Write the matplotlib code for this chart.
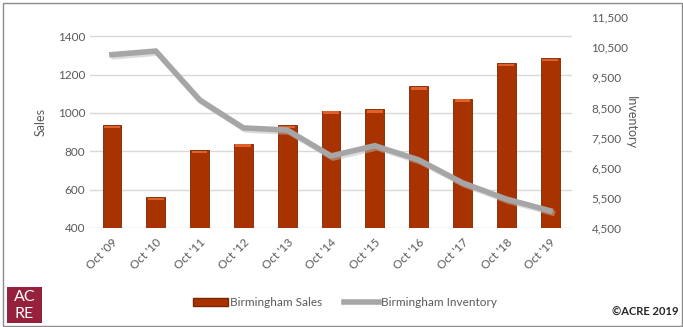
import matplotlib
matplotlib.use('Agg')
from matplotlib import pyplot as plt
from matplotlib.patches import Rectangle, Patch
from matplotlib.lines import Line2D
import matplotlib.patheffects as pe

years = ["Oct '09", "Oct '10", "Oct '11", "Oct '12", "Oct '13", "Oct '14",
         "Oct '15", "Oct '16", "Oct '17", "Oct '18", "Oct '19"]
sales = [935, 560, 805, 838, 935, 1012, 1018, 1138, 1075, 1258, 1285]
inventory = [10250, 10370, 8750, 7820, 7750, 6890, 7230, 6760, 6000, 5460, 5070]

sales_ticks = [400, 600, 800, 1000, 1200, 1400]
inv_ticks = [4500, 5500, 6500, 7500, 8500, 9500, 10500, 11500]

plt.rcParams['font.family'] = ['Lato', 'DejaVu Sans']
txt = '#595959'

fig = plt.figure(figsize=(6.83, 3.27), dpi=100)
ax = fig.add_axes([0.1318, 0.3028, 0.7057, 0.6452])

x = range(len(years))
ax.bar(x, sales, width=0.43, color='#A93300', edgecolor='#7A2400', linewidth=0.6, zorder=2)
# lighter bevel along each bar top
for i, v in enumerate(sales):
    ax.bar(i, 14, bottom=v - 16, width=0.36, color='#E0622A', linewidth=0, zorder=3)

ax.set_ylim(400, 1500)
ax.set_xlim(-0.5, len(years) - 0.5)
ax.set_yticks(sales_ticks)
ax.yaxis.grid(True, color='#D9D9D9', linewidth=1)
ax.set_axisbelow(True)
for s in ax.spines.values():
    s.set_visible(False)
ax.tick_params(length=0, colors=txt, labelsize=8.5)
ax.set_xticks(list(x))
ax.set_xticklabels(years, rotation=45, ha='right', rotation_mode='anchor')
ax.tick_params(axis='x', pad=6)
ax.set_ylabel('Sales', color=txt, fontsize=9, labelpad=8)

ax2 = ax.twinx()
ax2.plot(x, inventory, color='#A6A6A6', linewidth=4, solid_joinstyle='miter', zorder=4,
         path_effects=[pe.SimpleLineShadow(offset=(1.5, -1.5), shadow_color='#BBBBBB', alpha=0.5),
                       pe.Normal()])
ax2.set_ylim(4500, 11500)
ax2.set_yticks(inv_ticks)
ax2.set_yticklabels(['{:,}'.format(t) for t in inv_ticks])
for s in ax2.spines.values():
    s.set_visible(False)
ax2.tick_params(length=0, colors=txt, labelsize=8.5, pad=14)
ax2.set_ylabel('Inventory', color=txt, fontsize=9, rotation=270, labelpad=6)

handles = [Patch(facecolor='#A93300', edgecolor='#7A2400'),
           Line2D([0], [0], color='#A6A6A6', linewidth=4)]
fig.legend(handles, ['Birmingham Sales', 'Birmingham Inventory'], loc='center',
           bbox_to_anchor=(0.505, 0.075), ncol=2, frameon=False, fontsize=8.5,
           labelcolor=txt, handlelength=3, handletextpad=0.2, columnspacing=1.8)

# logo box and credit
fig.patches.append(Rectangle((0.010, 0.012), 0.052, 0.11, transform=fig.transFigure,
                             facecolor='#96213A', edgecolor='none'))
fig.text(0.036, 0.093, 'AC', color='white', fontsize=11.5, ha='center', va='center')
fig.text(0.036, 0.040, 'RE', color='white', fontsize=11.5, ha='center', va='center')
fig.text(0.993, 0.045, '©ACRE 2019', color='#262626', fontsize=8, fontweight='bold',
         ha='right', va='center')

# outer frame
fig.patches.append(Rectangle((0.004, 0.003), 0.994, 0.988, transform=fig.transFigure,
                             fill=False, edgecolor='#8C8C8C', linewidth=1))

plt.savefig('out.png', dpi=100)
